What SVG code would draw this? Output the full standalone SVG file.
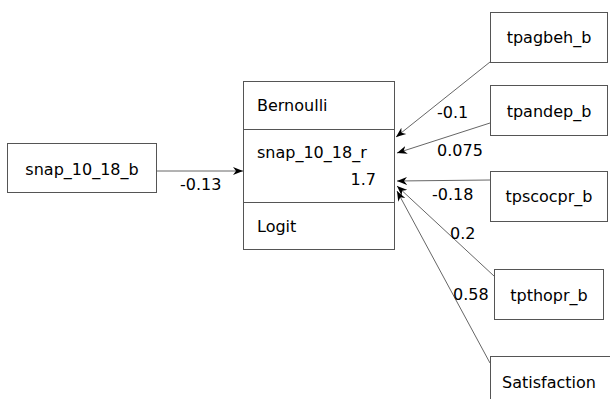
<svg xmlns="http://www.w3.org/2000/svg" width="610" height="399" viewBox="0 0 610 399">
<style>
.box{fill:#fff;stroke:#555;stroke-width:1}
.t{font-family:"DejaVu Sans",sans-serif;font-size:16px;fill:#000}
.e{stroke:#666;stroke-width:1;fill:none;marker-end:url(#ah)}
</style>
<defs>
<marker id="ah" viewBox="0 0 10 10" refX="10" refY="5" markerWidth="10" markerHeight="10" markerUnits="userSpaceOnUse" orient="auto">
<path d="M0,1 L10,5 L0,9 L3,5 Z" fill="#000"/>
</marker>
</defs>
<rect width="610" height="399" fill="#fff"/>
<g id="connectors">
<line class="e" x1="156" y1="171" x2="243" y2="171"/>
<line class="e" x1="490" y1="62" x2="396" y2="137"/>
<line class="e" x1="490" y1="123" x2="397" y2="153"/>
<line class="e" x1="490" y1="180" x2="397" y2="181"/>
<line class="e" x1="494" y1="276" x2="397" y2="186"/>
<line class="e" x1="490" y1="363" x2="397" y2="191"/>
<text class="t" x="180" y="190">-0.13</text>
<text class="t" x="437" y="118">-0.1</text>
<text class="t" x="437" y="156">0.075</text>
<text class="t" x="432" y="200">-0.18</text>
<text class="t" x="450" y="239">0.2</text>
<text class="t" x="453" y="300">0.58</text>
</g>
<g id="snap_10_18_b">
<rect class="box" x="7.5" y="143.5" width="149" height="49"/>
<text class="t" x="82" y="175" text-anchor="middle">snap_10_18_b</text>
</g>
<g id="snap_10_18_r">
<rect class="box" x="243.5" y="81.5" width="151" height="168"/>
<line stroke="#555" x1="243.5" y1="129.5" x2="394.5" y2="129.5"/>
<line stroke="#555" x1="243.5" y1="202.5" x2="394.5" y2="202.5"/>
<text class="t" x="257" y="111">Bernoulli</text>
<text class="t" x="257" y="158">snap_10_18_r</text>
<text class="t" x="376" y="185" text-anchor="end">1.7</text>
<text class="t" x="257" y="232">Logit</text>
</g>
<g id="tpagbeh_b">
<rect class="box" x="490.5" y="12.5" width="117" height="50"/>
<text class="t" x="549" y="43" text-anchor="middle">tpagbeh_b</text>
</g>
<g id="tpandep_b">
<rect class="box" x="490.5" y="85.5" width="117" height="50"/>
<text class="t" x="549" y="117" text-anchor="middle">tpandep_b</text>
</g>
<g id="tpscocpr_b">
<rect class="box" x="490.5" y="171.5" width="117" height="50"/>
<text class="t" x="549" y="202" text-anchor="middle">tpscocpr_b</text>
</g>
<g id="tpthopr_b">
<rect class="box" x="494.5" y="269.5" width="109" height="50"/>
<text class="t" x="549" y="301" text-anchor="middle">tpthopr_b</text>
</g>
<g id="Satisfaction">
<rect class="box" x="490.5" y="356.5" width="125" height="50"/>
<text class="t" x="549" y="388" text-anchor="middle">Satisfaction</text>
</g>
</svg>
